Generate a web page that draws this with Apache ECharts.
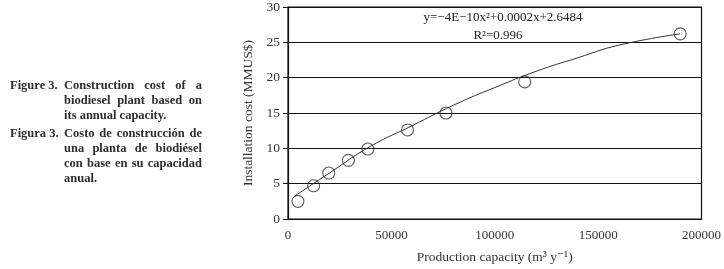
<!DOCTYPE html>
<html>
<head>
<meta charset="utf-8">
<script src="https://cdn.jsdelivr.net/npm/echarts@6/dist/echarts.min.js"></script>
<style>
  html, body { margin: 0; padding: 0; background: #fff; }
  #main { width: 724px; height: 269px; position: relative; }
  .caption {
    position: absolute;
    left: 10px;
    width: 192px;
    font-family: "Liberation Serif", "DejaVu Serif", serif;
    font-weight: bold;
    font-size: 12.5px;
    line-height: 15px;
    color: #2e2e2e;
  }
  .caption .lab { position: absolute; left: 0; top: 0; }
  .caption .ln { margin-left: 54px; white-space: nowrap; text-align: justify; text-align-last: justify; }
  .caption .ln.end { text-align-last: left; }
</style>
</head>
<body>
<div id="main"></div>
<div class="caption" style="top:78px">
  <span class="lab">Figure 3.</span>
  <div class="ln">Construction cost of a</div>
  <div class="ln">biodiesel plant based on</div>
  <div class="ln end">its annual capacity.</div>
</div>
<div class="caption" style="top:126px">
  <span class="lab">Figura 3.</span>
  <div class="ln">Costo de construcción de</div>
  <div class="ln">una planta de biodiésel</div>
  <div class="ln">con base en su capacidad</div>
  <div class="ln end">anual.</div>
</div>
<script>
// measured points (production capacity m3/y, cost MMUS$)
const capacity = [4800, 12400, 19700, 29200, 38600, 57800, 76400, 114500, 189700];
const cost = [2.5, 4.7, 6.5, 8.3, 9.9, 12.6, 15.0, 19.4, 26.2];

// trend line
const trendX = [3000, 20000, 40000, 60000, 80000, 100000, 120000, 140000, 160000, 189700];
const trendY = [3.2, 6.5, 10.3, 13.2, 16.1, 18.6, 20.9, 22.8, 24.6, 26.2];

const eqLine1 = "y=\u22124E\u221210x\u00b2+0.0002x+2.6484";
const eqLine2 = "R\u00b2=0.996";

const serif = '"Liberation Serif", "DejaVu Serif", serif';

const chart = echarts.init(document.getElementById('main'));
const option = {
  animation: false,
  grid: {
    left: 288,
    right: 21,
    top: 7,
    bottom: 45,
    show: true,
    borderColor: '#111',
    borderWidth: 1.2
  },
  xAxis: {
    type: 'value',
    min: 0,
    max: 200000,
    interval: 50000,
    name: 'Production capacity (m\u00b3 y\u207b\u00b9)',
    nameLocation: 'middle',
    nameGap: 31,
    nameTextStyle: { fontFamily: serif, fontSize: 13.5, color: '#333' },
    axisLine: { lineStyle: { color: '#111', width: 1.2 } },
    axisTick: { show: false },
    splitLine: { show: false },
    axisLabel: {
      fontFamily: serif, fontSize: 13, color: '#333', margin: 10,
      formatter: (v) => String(v)
    }
  },
  yAxis: {
    type: 'value',
    min: 0,
    max: 30,
    interval: 5,
    name: 'Installation cost (MMUS$)',
    nameLocation: 'middle',
    nameGap: 21,
    nameTextStyle: { fontFamily: serif, fontSize: 13.5, color: '#333' },
    axisLine: { show: true, lineStyle: { color: '#111', width: 1.2 } },
    axisTick: { show: true, length: 5, lineStyle: { color: '#111' } },
    splitLine: { lineStyle: { color: '#111', width: 1.2 } },
    axisLabel: { fontFamily: serif, fontSize: 13.5, color: '#333', margin: 8 }
  },
  graphic: [
    {
      type: 'text',
      x: 503,
      y: 18,
      style: { text: eqLine1, font: '13px ' + serif, fill: '#222', align: 'center', verticalAlign: 'middle' }
    },
    {
      type: 'text',
      x: 498,
      y: 36,
      style: { text: eqLine2, font: '13px ' + serif, fill: '#222', align: 'center', verticalAlign: 'middle' }
    }
  ],
  series: [
    {
      type: 'line',
      data: trendX.map((x, i) => [x, trendY[i]]),
      smooth: true,
      showSymbol: false,
      lineStyle: { color: '#333', width: 1 },
      z: 2
    },
    {
      type: 'scatter',
      data: capacity.map((x, i) => [x, cost[i]]),
      symbol: 'circle',
      symbolSize: 12,
      itemStyle: { color: 'rgba(0,0,0,0)', borderColor: '#333', borderWidth: 1.1 },
      z: 3
    }
  ]
};
chart.setOption(option);
</script>
</body>
</html>
